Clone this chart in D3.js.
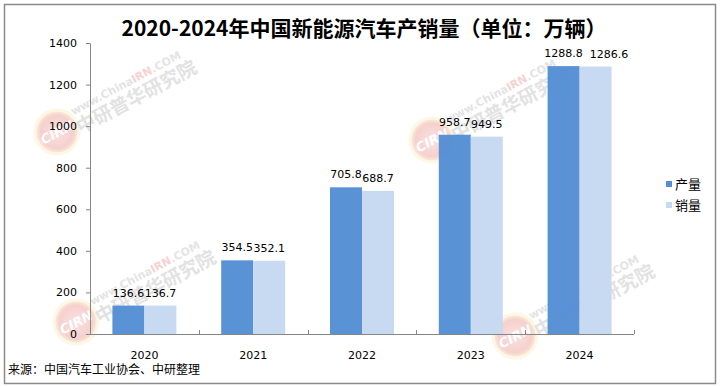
<!DOCTYPE html>
<html>
<head>
<meta charset="utf-8">
<script src="https://cdn.jsdelivr.net/npm/d3@7/dist/d3.min.js"></script>
<style>
  html, body { margin: 0; padding: 0; background: #fff; }
  #chart { width: 720px; height: 386px; }
</style>
</head>
<body>
<div id="chart"></div>
<script>
var years = ["2020", "2021", "2022", "2023", "2024"];
var seriesNames = ["产量", "销量"];
var production = [136.6, 354.5, 705.8, 958.7, 1288.8];
var sales = [136.7, 352.1, 688.7, 949.5, 1286.6];
var yTicks = [0, 200, 400, 600, 800, 1000, 1200, 1400];
var colors = ["#558ed5", "#c6d9f1"];
var title = "2020-2024年中国新能源汽车产销量（单位：万辆）";
var source = "来源：中国汽车工业协会、中研整理";

var width = 720, height = 386;
var margin = { top: 43, right: 86, bottom: 52, left: 90 };

var svg = d3.select("#chart").append("svg")
    .attr("width", width)
    .attr("height", height)
    .attr("viewBox", [0, 0, width, height]);

// outer frame
svg.append("rect")
    .attr("x", 4.5).attr("y", 4.5)
    .attr("width", 711).attr("height", 379)
    .attr("fill", "#fff")
    .attr("stroke", "#8a8a8a")
    .attr("stroke-width", 1.5);

// watermarks (drawn under the data)
var marks = [[57, 132], [76, 322], [432, 140], [515, 336]];
var defs = svg.append("defs");
var grad = defs.append("radialGradient").attr("id", "wmGrad");
grad.append("stop").attr("offset", "0%").attr("stop-color", "#f6d0cd");
grad.append("stop").attr("offset", "75%").attr("stop-color", "#f0b2ae");
grad.append("stop").attr("offset", "100%").attr("stop-color", "#fcebc2");

var wm = svg.append("g").attr("pointer-events", "none")
    .selectAll("g")
    .data(marks)
    .enter().append("g")
    .attr("transform", function (d) { return "translate(" + d[0] + "," + d[1] + ") rotate(-28)"; });
wm.append("circle")
    .attr("r", 22)
    .attr("fill", "url(#wmGrad)")
    .attr("stroke", "#fdf2d4")
    .attr("stroke-width", 3)
    .attr("opacity", 0.6);
wm.append("text")
    .attr("x", 0).attr("y", 5)
    .attr("text-anchor", "middle")
    .style("font-family", "'DejaVu Sans', sans-serif")
    .style("font-weight", "bold")
    .style("font-style", "italic")
    .style("font-size", "13px")
    .attr("fill", "#fff")
    .text("CIRN");
var line1 = wm.append("text")
    .attr("x", 22).attr("y", -7)
    .style("font-family", "'DejaVu Sans', sans-serif")
    .style("font-weight", "bold")
    .style("font-size", "11px")
    .attr("fill", "#e4e4e4");
line1.append("tspan").text("www.China");
line1.append("tspan").attr("fill", "#f6d2d2").text("IRN");
line1.append("tspan").text(".COM");
wm.append("text")
    .attr("x", 20).attr("y", 13)
    .style("font-family", "'Noto Sans CJK SC', sans-serif")
    .style("font-weight", "bold")
    .style("font-size", "19px")
    .attr("fill", "#e2e2e2")
    .text("中研普华研究院");

svg.append("text")
    .attr("x", 364).attr("y", 36)
    .attr("text-anchor", "middle")
    .style("font-family", "'Noto Sans CJK SC', sans-serif")
    .style("font-weight", "bold")
    .style("font-size", "21px")
    .attr("fill", "#000")
    .text(title);

var x = d3.scaleBand()
    .domain(years)
    .range([margin.left, width - margin.right])
    .padding(0);

var xs = d3.scaleBand()
    .domain(seriesNames)
    .range([0, x.bandwidth()])
    .paddingInner(0)
    .paddingOuter(0.7);

var y = d3.scaleLinear()
    .domain([0, 1400])
    .range([height - margin.bottom, margin.top]);

var rows = years.map(function (yr, i) {
    return { year: yr, values: [production[i], sales[i]] };
});

// y axis
var yAxis = svg.append("g")
    .attr("transform", "translate(" + margin.left + ",0)")
    .call(d3.axisLeft(y).tickValues(yTicks).tickFormat(d3.format("d"))
        .tickSize(4).tickSizeOuter(0).tickPadding(9));
yAxis.select(".domain").attr("stroke", "#868686");
yAxis.selectAll(".tick line").attr("stroke", "#868686");
yAxis.selectAll(".tick text")
    .style("font-family", "'DejaVu Sans', Verdana, sans-serif")
    .style("font-size", "11px")
    .attr("fill", "#000");

// bars
var groups = svg.append("g").selectAll("g")
    .data(rows)
    .enter().append("g")
    .attr("transform", function (d) { return "translate(" + x(d.year) + ",0)"; });

function cells(d) {
    return d.values.map(function (v, k) { return { name: seriesNames[k], v: v, k: k }; });
}

groups.selectAll("rect")
    .data(cells)
    .enter().append("rect")
    .attr("x", function (d) { return xs(d.name); })
    .attr("y", function (d) { return y(d.v); })
    .attr("width", xs.bandwidth())
    .attr("height", function (d) { return y(0) - y(d.v); })
    .attr("fill", function (d) { return colors[d.k]; })
    .attr("fill-opacity", 0.97);

groups.each(function () {
    var labels = d3.select(this).selectAll("text")
        .data(cells)
        .enter().append("text")
        .attr("x", function (d) { return xs(d.name) + xs.bandwidth() / 2; })
        .attr("y", function (d) { return y(d.v) - 9; })
        .attr("text-anchor", "middle")
        .style("font-family", "'DejaVu Sans', Verdana, sans-serif")
        .style("font-size", "11px")
        .attr("fill", "#000")
        .text(function (d) { return d3.format(".1f")(d.v); });
    // push the second label right if it collides with the first (as Excel does)
    var n = labels.nodes();
    var a = n[0].getBBox(), b = n[1].getBBox();
    if (b.x < a.x + a.width) {
        var shift = a.x + a.width + 7 - b.x;
        d3.select(n[1]).attr("x", +d3.select(n[1]).attr("x") + shift);
    }
});

// x axis: line, boundary ticks pointing up, year labels
var y0 = y(0);
svg.append("line")
    .attr("x1", x.range()[0]).attr("x2", x.range()[1])
    .attr("y1", y0 + 0.5).attr("y2", y0 + 0.5)
    .attr("stroke", "#868686");
var bounds = years.map(function (d) { return x(d); }).concat([x.range()[1]]);
svg.append("g").selectAll("line")
    .data(bounds.slice(1))
    .enter().append("line")
    .attr("x1", function (d) { return Math.round(d) + 0.5; })
    .attr("x2", function (d) { return Math.round(d) + 0.5; })
    .attr("y1", y0 - 4).attr("y2", y0)
    .attr("stroke", "#868686");
svg.append("g").selectAll("text")
    .data(years)
    .enter().append("text")
    .attr("x", function (d) { return x(d) + x.bandwidth() / 2; })
    .attr("y", y0 + 25)
    .attr("text-anchor", "middle")
    .style("font-family", "'DejaVu Sans', Verdana, sans-serif")
    .style("font-size", "11px")
    .attr("fill", "#000")
    .text(function (d) { return d; });

// legend
var legend = svg.append("g").selectAll("g")
    .data(seriesNames)
    .enter().append("g")
    .attr("transform", function (d, i) { return "translate(666," + (181 + i * 21) + ")"; });
legend.append("rect")
    .attr("width", 6).attr("height", 6)
    .attr("fill", function (d, i) { return colors[i]; });
legend.append("text")
    .attr("x", 9).attr("y", 7.5)
    .style("font-family", "'Noto Sans CJK SC', sans-serif")
    .style("font-size", "13px")
    .attr("fill", "#000")
    .text(function (d) { return d; });

svg.append("text")
    .attr("x", 8).attr("y", 374)
    .style("font-family", "'Liberation Sans', 'Noto Sans CJK SC', sans-serif")
    .style("font-size", "12px")
    .attr("fill", "#000")
    .text(source);
</script>
</body>
</html>
